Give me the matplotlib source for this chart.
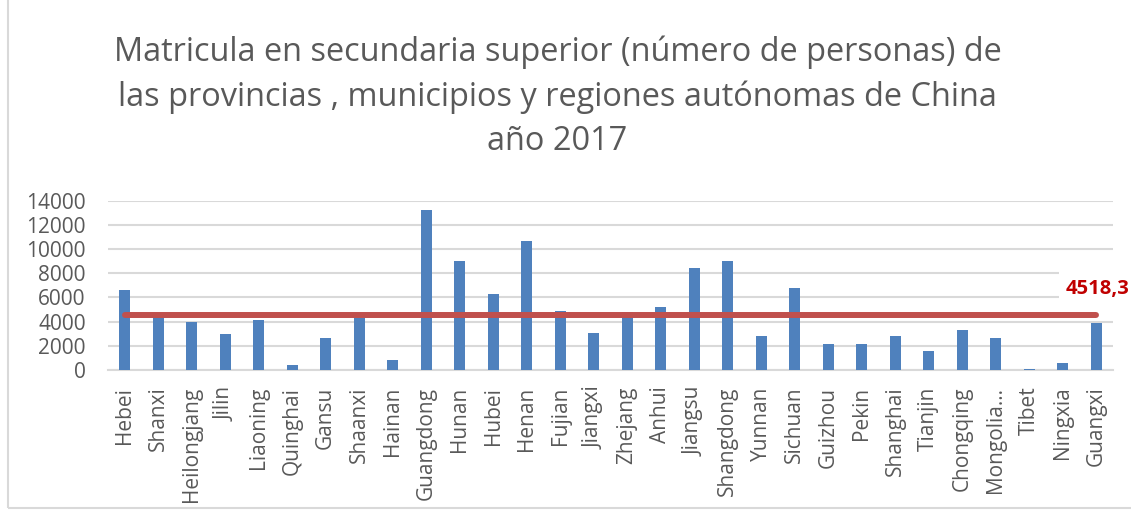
import matplotlib.pyplot as plt
from matplotlib.patches import Rectangle

# data
provincias = ["Hebei", "Shanxi", "Heilongjang", "Jilin", "Liaoning", "Quinghai",
              "Gansu", "Shaanxi", "Hainan", "Guangdong", "Hunan", "Hubei", "Henan",
              "Fujian", "Jiangxi", "Zhejang", "Anhui", "Jiangsu", "Shangdong",
              "Yunnan", "Sichuan", "Guizhou", "Pekin", "Shanghai", "Tianjin",
              "Chongqing", "Mongolia…", "Tibet", "Ningxia", "Guangxi"]
matricula = [6650, 4400, 4010, 2970, 4120, 410, 2660, 4300, 820, 13230,
             9030, 6260, 10650, 4910, 3080, 4800, 5220, 8480, 9030, 2800,
             6750, 2170, 2170, 2800, 1540, 3320, 2640, 80, 580, 3900]
promedio = 4518.3
etiqueta_promedio = "4518,3"

titulo = ("Matricula en secundaria superior (número de personas) de\n"
          "las provincias , municipios y regiones autónomas de China\n"
          "año 2017")

plt.rcParams["font.family"] = ["Open Sans", "DejaVu Sans"]
gris = "#595959"

fig = plt.figure(figsize=(11.31, 5.11), dpi=100)
ax = fig.add_axes([0.0955, 0.276, 0.8885, 0.331])
ax.set_axisbelow(True)

x = range(len(provincias))
ax.bar(x, matricula, width=0.33, color="#4f81bd", zorder=3)
ax.plot([0, len(provincias) - 1], [promedio, promedio], color="#c0504d",
        linewidth=4.3, solid_capstyle="round", zorder=4)

# white box behind the data label (hides the gridlines there)
ax.add_patch(Rectangle((27.9, 5800), 3.0, 2500, facecolor="white",
                       edgecolor="none", zorder=1, clip_on=False))
ax.text(28.08, 6670, etiqueta_promedio, color="#c00000", fontsize=14.5,
        fontweight="bold", va="center", ha="left", zorder=5, clip_on=False)

ax.set_xlim(-0.5, len(provincias) - 0.5)
ax.set_ylim(0, 14000)
ax.set_yticks(range(0, 14001, 2000))
ax.set_xticks(list(x))
ax.set_xticklabels(provincias, rotation=90)
ax.tick_params(axis="x", length=0, pad=12, labelsize=15, labelcolor=gris)
ax.tick_params(axis="y", length=0, pad=16, labelsize=15, labelcolor=gris)
ax.grid(axis="y", color="#d9d9d9", linewidth=1.5)
for s in ["top", "right", "left"]:
    ax.spines[s].set_visible(False)
ax.spines["bottom"].set_color("#d9d9d9")
ax.spines["bottom"].set_linewidth(1.5)

fig.text(0.493, 0.81, titulo, ha="center", va="center", fontsize=23.4,
         color=gris, linespacing=1.45)

# chart border
fig.patches.append(Rectangle((0.007, 0.006), 1.2, 1.2, transform=fig.transFigure,
                             fill=False, edgecolor="#d9d9d9", linewidth=1.5))

plt.savefig("out.png", dpi=100)
